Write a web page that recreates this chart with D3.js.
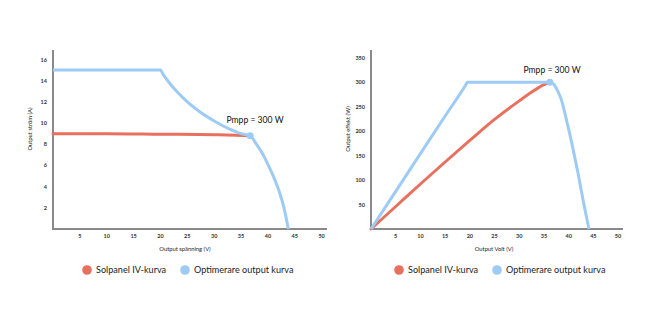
<!DOCTYPE html>
<html>
<head>
<meta charset="utf-8">
<script src="https://cdn.jsdelivr.net/npm/d3@7"></script>
<style>
  body { margin: 0; background: #fff; }
  svg { font-family: Lato, "DejaVu Sans", sans-serif; }
</style>
</head>
<body>
<svg id="chart" width="655" height="325"></svg>
<script>
// left chart: ström (A) vs spänning (V)
var ivRed = [[0, 9.0], [10, 9.0], [20, 8.95], [30, 8.9], [34, 8.85], [36.7, 8.8]]
var ivBlue = [[0, 15], [20, 15], [20.5, 14.6], [21.5, 13.9], [23, 13], [25, 12], [27.5, 11], [30, 10.2],
    [33, 9.4], [35, 9.0], [36.7, 8.8], [38, 7.9], [39, 7.1], [40, 6.1], [41, 5.0], [42, 3.7], [43, 2.0], [43.8, 0]]
var ivMpp = [36.7, 8.8]

// right chart: effekt (W) vs volt (V)
var pvRed = [[0, 0], [5, 46], [10, 92], [15, 137], [20, 181], [25, 224], [30, 262], [33, 283], [35, 295], [36.2, 300]]
var pvBlue = [[0, 0], [5, 77], [10, 154], [15, 231], [19.2, 295], [19.5, 300], [36.2, 300], [37, 296], [37.7, 284],
    [38.5, 265], [39.7, 217], [40.8, 168], [41.9, 114], [43, 55], [44.1, 0]]
var pvMpp = [36.2, 300]

var xTicks = [5, 10, 15, 20, 25, 30, 35, 40, 45, 50]
var ivYTicks = [2, 4, 6, 8, 10, 12, 14, 16]
var pvYTicks = [50, 100, 150, 200, 250, 300, 350]

var legendItems = ['Solpanel IV-kurva', 'Optimerare output kurva']
var mppLabel = 'Pmpp = 300 W'

var red = '#e8705f'
var blue = '#9ecbf3'
var axisGrey = '#8a8a8a'

var svg = d3.select('#chart')

function drawPanel(opt) {
    var x = d3.scaleLinear().domain([0, 51]).range([opt.x0, opt.x1])
    var y = d3.scaleLinear().domain([0, opt.yMax]).range([229, 50])
    var g = svg.append('g')

    // axes lines
    g.append('line')
        .attr('x1', x(0)).attr('x2', x(0))
        .attr('y1', y(0) + 1).attr('y2', y(opt.yMax))
        .style('stroke', axisGrey).style('stroke-width', 2)
    g.append('line')
        .attr('x1', x(0) - 1).attr('x2', x(51))
        .attr('y1', y(0)).attr('y2', y(0))
        .style('stroke', axisGrey).style('stroke-width', 2)

    g.selectAll('.xt')
        .data(xTicks)
        .enter()
        .append('text')
        .attr('x', function (d) { return x(d) })
        .attr('y', 237.5)
        .attr('text-anchor', 'middle')
        .style('font-size', '5.5px').style('font-weight', 'bold').style('fill', '#333')
        .text(function (d) { return d })

    g.selectAll('.yt')
        .data(opt.yTicks)
        .enter()
        .append('text')
        .attr('x', x(0) - 6)
        .attr('y', function (d) { return y(d) + 2 })
        .attr('text-anchor', 'end')
        .style('font-size', '5.5px').style('font-weight', 'bold').style('fill', '#333')
        .text(function (d) { return d })

    g.append('text')
        .attr('x', opt.xLabelX).attr('y', 251)
        .attr('text-anchor', 'middle')
        .style('font-size', '5.8px').style('fill', '#222')
        .text(opt.xLabel)
    g.append('text')
        .attr('transform', 'translate(' + (x(0) - 21) + ',129) rotate(-90)')
        .attr('text-anchor', 'middle')
        .style('font-size', '5.8px').style('fill', '#222')
        .text(opt.yLabel)

    var line = d3.line()
        .x(function (d) { return x(d[0]) })
        .y(function (d) { return y(d[1]) })
        .curve(d3.curveMonotoneX)

    g.append('path')
        .datum(opt.red)
        .attr('d', line)
        .style('fill', 'none').style('stroke', red).style('stroke-width', 3)
        .style('stroke-linecap', 'round')
    g.append('path')
        .datum(opt.blue)
        .attr('d', line)
        .style('fill', 'none').style('stroke', blue).style('stroke-width', 3)
        .style('stroke-linejoin', 'round')
    g.append('circle')
        .attr('cx', x(opt.mpp[0])).attr('cy', y(opt.mpp[1]))
        .attr('r', 3.5)
        .style('fill', blue)

    g.append('text')
        .attr('x', opt.mppX).attr('y', opt.mppY)
        .attr('text-anchor', 'middle')
        .style('font-size', '8.6px').style('fill', '#111')
        .text(mppLabel)

    // legend
    var lg = g.selectAll('.lg')
        .data(legendItems)
        .enter()
        .append('g')
        .attr('transform', function (d, i) { return 'translate(' + opt.legendX[i] + ',270)' })
    lg.append('circle')
        .attr('r', 4.8)
        .style('fill', function (d, i) { return i === 0 ? red : blue })
    lg.append('text')
        .attr('x', 9).attr('y', 3.3)
        .style('font-size', '9.1px').style('fill', '#222')
        .text(function (d) { return d })
}

drawPanel({
    x0: 53, x1: 327, yMax: 16.9,
    yTicks: ivYTicks, red: ivRed, blue: ivBlue, mpp: ivMpp,
    xLabel: 'Output spänning (V)', xLabelX: 185,
    yLabel: 'Output ström (A)',
    mppX: 255, mppY: 123,
    legendX: [87, 185]
})

drawPanel({
    x0: 371, x1: 623, yMax: 366,
    yTicks: pvYTicks, red: pvRed, blue: pvBlue, mpp: pvMpp,
    xLabel: 'Output Volt (V)', xLabelX: 494,
    yLabel: 'Output effekt (W)',
    mppX: 552, mppY: 73,
    legendX: [399, 497]
})
</script>
</body>
</html>
